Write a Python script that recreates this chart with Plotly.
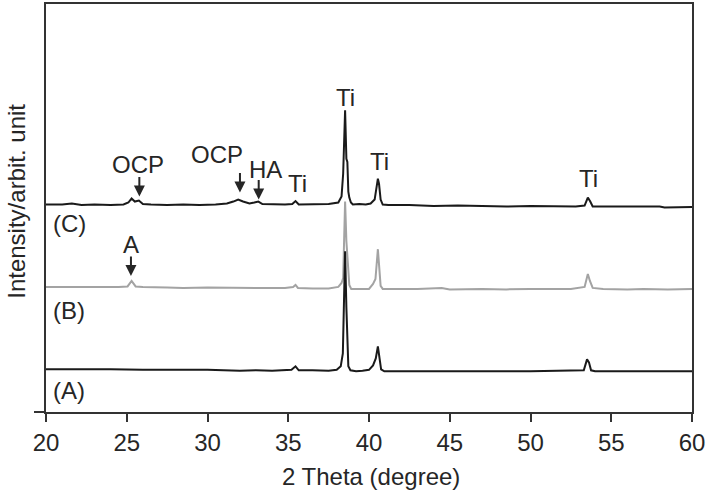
import plotly.graph_objects as go

# ---- data (2-theta in degrees, intensity in arbitrary stacked units) ----
c_theta = [20.0, 21.0, 21.6, 22.2, 23.0, 24.0, 24.8, 25.1, 25.3, 25.5, 25.75, 26.0, 26.5, 27.5, 28.5,
           29.5, 30.5, 31.2, 31.6, 31.9, 32.2, 32.6, 32.9, 33.15, 33.4, 34.0, 34.8, 35.25, 35.45, 35.65,
           36.5, 37.5, 38.1, 38.3, 38.4, 38.52, 38.6, 38.66, 38.72, 38.78, 38.88, 39.0, 39.4, 39.8, 40.1,
           40.35, 40.55, 40.62, 40.72, 40.85, 41.2, 42.5, 44.0, 45.5, 47.0, 48.5, 50.0, 51.5, 52.8, 53.35,
           53.55, 53.7, 53.85, 54.2, 55.5, 57.0, 58.0, 58.3, 59.0, 60.0]
c_int = [209, 209, 210, 208.5, 209, 208.5, 209, 211, 215, 212, 213, 209.5, 209, 208.5, 209,
         208.5, 209, 210, 212, 214, 212, 210, 211, 212, 209.5, 209, 209, 209.5, 212.5, 209,
         209, 209.5, 211, 217, 240, 304, 255, 252, 222, 216, 211, 209, 209.5, 209, 210,
         214, 235, 230, 214, 209, 208.5, 208.5, 207.5, 208, 207.5, 207, 207.5, 207, 207, 208,
         216, 212, 207, 207, 207, 206.5, 207, 206, 206.5, 206.5]

b_theta = [20.0, 21.5, 22.0, 23.0, 24.5, 25.05, 25.3, 25.55, 26.0, 27.5, 28.5, 30.0, 31.5, 33.0, 34.8,
           35.3, 35.45, 35.6, 36.5, 37.5, 38.1, 38.3, 38.4, 38.52, 38.6, 38.68, 38.78, 38.9, 39.5, 40.0,
           40.25, 40.4, 40.55, 40.62, 40.72, 40.85, 41.2, 43.0, 44.5, 45.0, 47.0, 48.5, 50.0, 52.5, 53.35,
           53.55, 53.68, 53.85, 54.5, 56.0, 57.0, 58.5, 60.0]
b_int = [126, 126, 125.5, 126, 126, 126.5, 132, 126.5, 126, 125.5, 125, 125.5, 125, 125, 125,
         126, 128, 125, 124.5, 124.5, 126, 130, 135, 212, 172, 147, 128, 124, 124, 124,
         129, 134, 164, 150, 127, 124, 124, 124, 125, 123.5, 124, 123.5, 124, 124, 126,
         139, 132, 125, 124, 123.5, 124, 123.5, 124]

a_theta = [20.0, 21.0, 22.0, 22.5, 23.0, 24.0, 26.0, 28.0, 30.0, 32.0, 33.0, 34.0, 35.2, 35.45, 35.65,
           36.5, 37.5, 38.0, 38.25, 38.38, 38.52, 38.6, 38.66, 38.72, 38.85, 39.2, 39.6, 40.0, 40.25,
           40.42, 40.55, 40.65, 40.75, 40.95, 42.0, 45.0, 50.0, 53.3, 53.5, 53.62, 53.75, 54.0, 57.0, 60.0]
a_int = [43, 43, 43, 43.5, 43, 43, 42.5, 42.5, 42.5, 41.5, 42, 41.5, 42.5, 46, 42,
         42, 41.5, 42.5, 46, 59, 162, 105, 82, 46, 42, 41, 41.5, 42.5, 47,
         54, 66, 56, 43, 41, 41, 41, 41, 42, 53, 50, 42, 41, 41, 41]

x_ticks = [20, 25, 30, 35, 40, 45, 50, 55, 60]

# peak labels: (text, 2-theta, intensity)
peak_labels = [("OCP", 25.70, 249), ("OCP", 30.59, 259), ("HA", 33.62, 244), ("Ti", 35.60, 230),
               ("Ti", 38.56, 317), ("Ti", 40.62, 252), ("Ti", 53.62, 235), ("A", 25.26, 169)]
# arrows: (2-theta, intensity of tip)
arrow_tips = [(25.78, 217), (32.01, 221), (33.17, 214), (25.26, 137)]
# sample labels: (text, intensity)
sample_labels = [("(C)", 190), ("(B)", 102), ("(A)", 22)]

FONT = "Liberation Sans, Arial, sans-serif"
TXT = "#262626"

fig = go.Figure()
fig.add_trace(go.Scatter(x=b_theta, y=b_int, mode="lines", line=dict(color="#a3a3a3", width=2),
                         showlegend=False))
fig.add_trace(go.Scatter(x=a_theta, y=a_int, mode="lines", line=dict(color="#1a1a1a", width=2),
                         showlegend=False))
fig.add_trace(go.Scatter(x=c_theta, y=c_int, mode="lines", line=dict(color="#1a1a1a", width=2),
                         showlegend=False))

annotations = []
for t, x, y in peak_labels:
    annotations.append(dict(x=x, y=y, xref="x", yref="y", text=t, showarrow=False,
                            font=dict(family=FONT, size=24, color=TXT),
                            xanchor="center", yanchor="middle"))
for x, y in arrow_tips:
    annotations.append(dict(x=x, y=y, xref="x", yref="y", text="", showarrow=True,
                            ax=0, ay=-21, arrowhead=2, arrowsize=1.1, arrowwidth=2,
                            arrowcolor=TXT, standoff=0))
for t, y in sample_labels:
    annotations.append(dict(x=20.3, y=y, xref="x", yref="y", text=t, showarrow=False,
                            font=dict(family=FONT, size=24, color=TXT),
                            xanchor="left", yanchor="middle"))
annotations.append(dict(x=-0.046, y=0.516, xref="paper", yref="paper", text="Intensity/arbit. unit",
                        textangle=-90, showarrow=False, font=dict(family=FONT, size=24, color=TXT),
                        xanchor="center", yanchor="middle"))
annotations.append(dict(x=0.503, y=-0.158, xref="paper", yref="paper", text="2 Theta (degree)",
                        showarrow=False, font=dict(family=FONT, size=24, color=TXT),
                        xanchor="center", yanchor="middle"))

fig.update_layout(
    width=708, height=494,
    margin=dict(l=46, r=16, t=2, b=82),
    paper_bgcolor="white", plot_bgcolor="white",
    annotations=annotations,
    xaxis=dict(range=[20, 60], tickvals=x_ticks, ticks="outside", ticklen=8, tickwidth=2,
               tickcolor="#333", showline=True, linecolor="#333", linewidth=2, mirror=True,
               showgrid=False, zeroline=False,
               tickfont=dict(family=FONT, size=24, color=TXT)),
    yaxis=dict(range=[0, 411], tickvals=[0], ticks="outside", ticklen=10, tickwidth=2,
               tickcolor="#333", showticklabels=False, showline=True, linecolor="#333",
               linewidth=2, mirror=True, showgrid=False, zeroline=False),
)

fig.write_html("out.html", config={"displayModeBar": False},
               post_script="document.body.style.margin='0';document.body.style.overflow='hidden';")
